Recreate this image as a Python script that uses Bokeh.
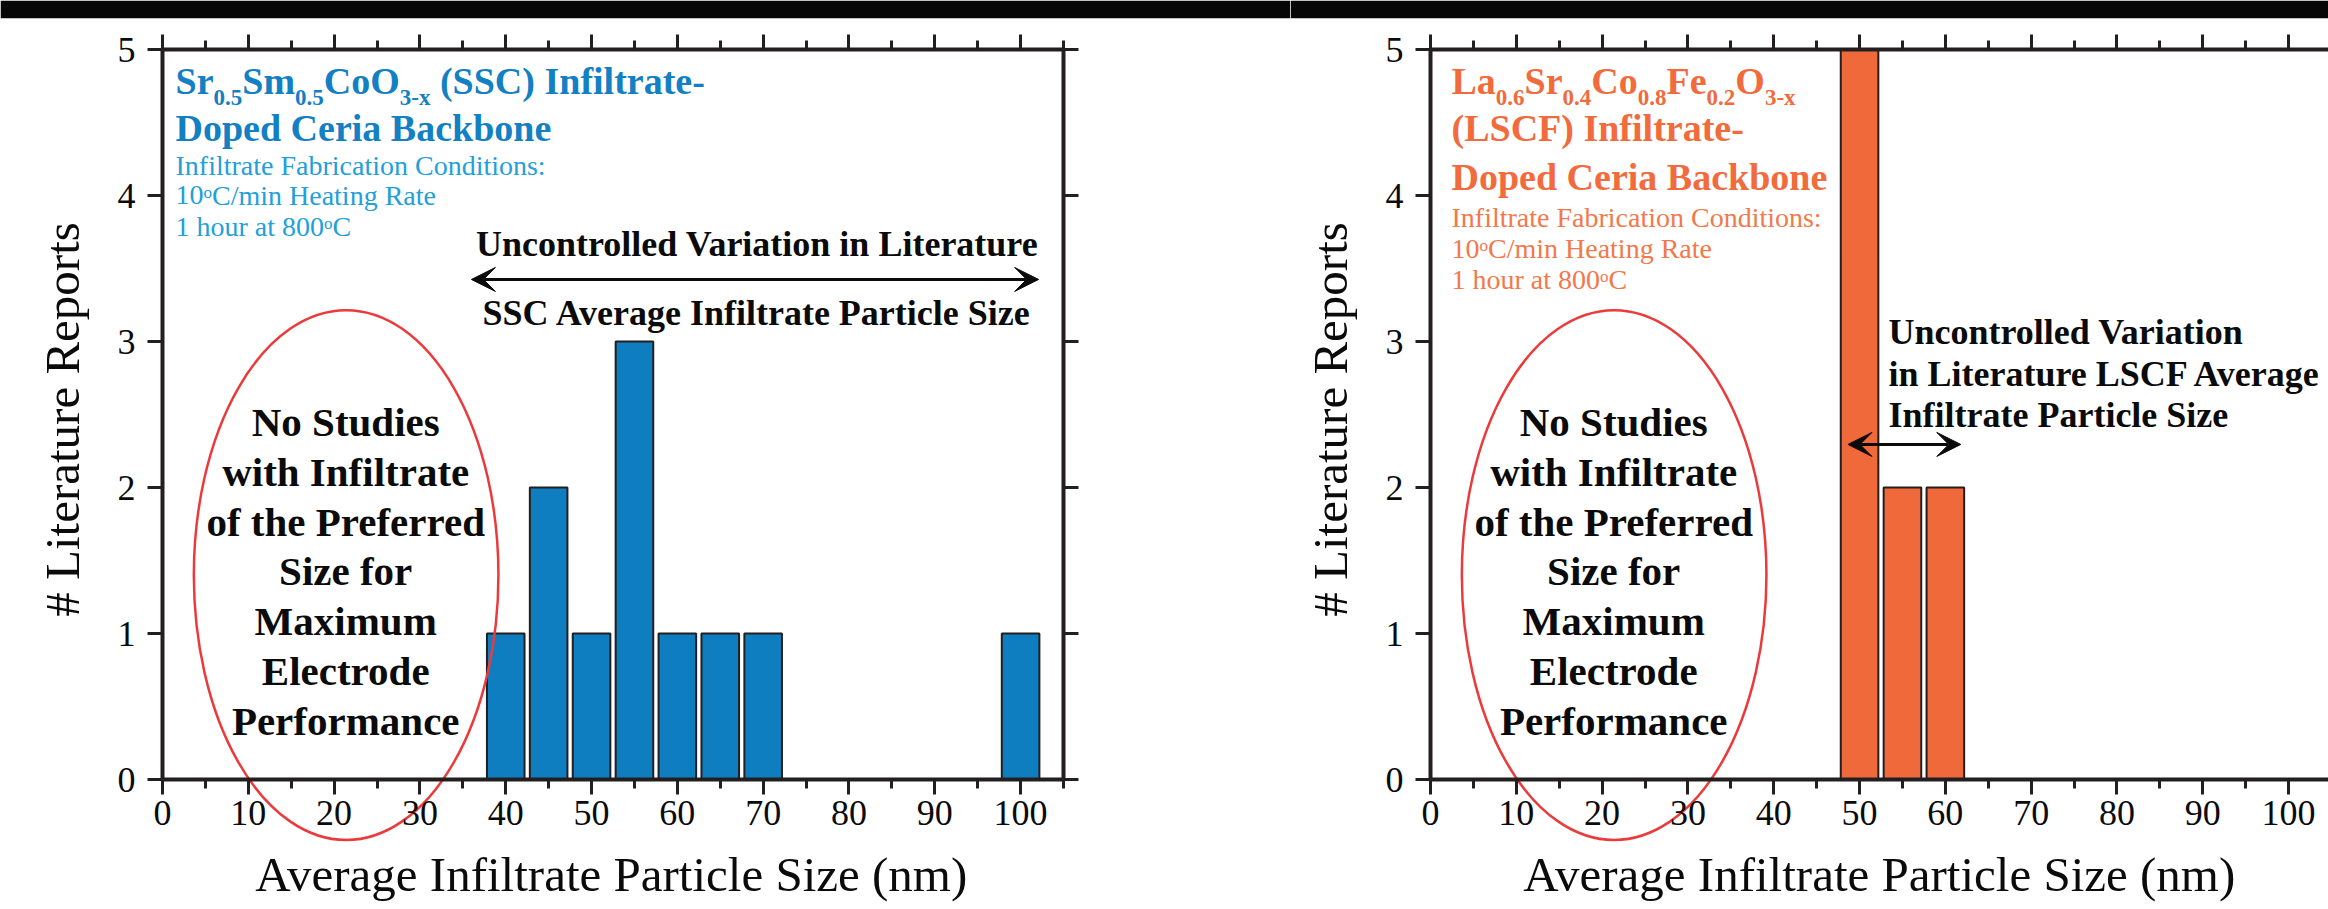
import math
from bokeh.plotting import figure
from bokeh.models import (Range1d, LinearAxis, FixedTicker, Label, Arrow, VeeHead,
                          CustomJSTickFormatter)
from bokeh.layouts import row
from bokeh.embed import file_html
from bokeh.resources import INLINE

# ---------------- data ----------------
ssc_sizes = [40, 45, 50, 55, 60, 65, 70, 100]
ssc_counts = [1, 2, 1, 3, 1, 1, 1, 1]
lscf_sizes = [50, 55, 60]
lscf_counts = [5, 2, 2]
x_major_ticks = [0, 10, 20, 30, 40, 50, 60, 70, 80, 90, 100]
x_minor_ticks = [5, 15, 25, 35, 45, 55, 65, 75, 85, 95, 105]
y_ticks = [0, 1, 2, 3, 4, 5]
x_label = "Average Infiltrate Particle Size (nm)"
y_label = "# Literature Reports"
ellipse_lines = ["No Studies", "with Infiltrate", "of the Preferred", "Size for",
                 "Maximum", "Electrode", "Performance"]

# ---------------- geometry / style ----------------
FONT = "Liberation Serif"
X_PX = 901 / 105.0        # px per x unit
Y_PX = 146.0              # px per y unit
FIG_H = 909
BAND = 18                 # black band height (figure top border)
Y0_PIX = 779              # page y of value 0
Y_END = 5 + (49 - BAND) / Y_PX
Y_START = -(FIG_H - Y0_PIX) / Y_PX
BASE_SHIFT = 0.37         # em correction for label baseline placement
AX = "#231f20"
TXT = "#0b0b0b"

W_R = {' ': 250, '(': 333, ')': 333, '-': 333, '.': 250, '/': 278, ':': 278, '#': 500}
W_B = {' ': 250, '(': 333, ')': 333, '-': 333, '.': 250, '/': 278, ':': 333, '#': 500}
for d in "0123456789":
    W_R[d] = 500
    W_B[d] = 500
W_R.update(dict(zip("abcdefghijklmnopqrstuvwxyz",
                    [444, 500, 444, 500, 444, 333, 500, 500, 278, 278, 500, 278, 778, 500, 500, 500, 500,
                     333, 389, 278, 500, 500, 722, 500, 500, 444])))
W_R.update(dict(zip("ABCDEFGHIJKLMNOPQRSTUVWXYZ",
                    [722, 667, 667, 722, 611, 556, 722, 722, 333, 389, 722, 611, 889, 722, 722, 556, 722,
                     667, 556, 611, 722, 722, 944, 722, 722, 611])))
W_B.update(dict(zip("abcdefghijklmnopqrstuvwxyz",
                    [500, 556, 444, 556, 444, 333, 500, 556, 278, 333, 556, 278, 833, 556, 500, 556, 556,
                     444, 389, 333, 556, 500, 722, 500, 500, 444])))
W_B.update(dict(zip("ABCDEFGHIJKLMNOPQRSTUVWXYZ",
                    [722, 667, 722, 722, 667, 611, 778, 778, 389, 500, 778, 667, 944, 722, 778, 611, 778,
                     722, 556, 667, 722, 722, 1000, 722, 722, 667])))


def tw(s, size, bold):
    t = W_B if bold else W_R
    return sum(t.get(c, 500) for c in s) * size / 1000.0


def lab(p, x, y, text, size, bold=False, color=TXT, align="left", angle=0.0):
    if angle == 0.0:
        y = y + BASE_SHIFT * size / Y_PX
    else:
        x = x - BASE_SHIFT * size / X_PX
    p.add_layout(Label(x=x, y=y, text=text, text_font=FONT, text_font_size=f"{size}px",
                       text_font_style="bold" if bold else "normal", text_color=color,
                       text_align=align, text_baseline="alphabetic", angle=angle))


def rich(p, pieces, x0, y0, size, bold, color, small):
    x = x0
    for text, kind in pieces:
        if kind == "sub":
            fs, dy = small, -11 / Y_PX
        elif kind == "sup":
            fs, dy = small, 7 / Y_PX
        else:
            fs, dy = size, 0.0
        lead = len(text) - len(text.lstrip(" "))
        x += tw(" " * lead, fs, bold) / X_PX
        body = text.lstrip(" ")
        lab(p, x, y0 + dy, body, fs, bold, color)
        x += tw(body, fs, bold) / X_PX


def style_axis(ax, show_labels=True):
    ax.axis_line_color = AX
    ax.axis_line_width = 4
    ax.major_tick_line_color = AX
    ax.major_tick_line_width = 3
    ax.minor_tick_line_color = AX
    ax.minor_tick_line_width = 3
    ax.major_tick_in = 0
    ax.minor_tick_in = 0
    ax.major_tick_out = 15
    ax.minor_tick_out = 9
    ax.major_label_text_font = FONT
    ax.major_label_text_font_size = "36px"
    ax.major_label_text_color = TXT
    if not show_labels:
        ax.formatter = CustomJSTickFormatter(code="return ''")
        ax.major_label_standoff = 0


def make_fig(fig_w, frame_left_px, x_axis_end, right_axis):
    x_start = -frame_left_px / X_PX
    x_end = (fig_w - frame_left_px) / X_PX
    p = figure(width=fig_w, height=FIG_H, output_backend="svg", toolbar_location=None,
               x_range=Range1d(x_start, x_end), y_range=Range1d(Y_START, Y_END),
               x_axis_location=None, y_axis_location=None,
               min_border=0, min_border_left=0, min_border_right=0,
               min_border_top=BAND, min_border_bottom=0)
    p.xgrid.visible = False
    p.ygrid.visible = False
    p.outline_line_color = None
    p.background_fill_color = "white"
    p.border_fill_color = "#060606"   # the black band along the top of the page

    bottom = LinearAxis(fixed_location=0, bounds=(0, x_axis_end),
                        ticker=FixedTicker(ticks=x_major_ticks, minor_ticks=x_minor_ticks))
    style_axis(bottom)
    bottom.major_label_standoff = 6
    p.add_layout(bottom, "below")

    top = LinearAxis(fixed_location=5, bounds=(0, x_axis_end),
                     ticker=FixedTicker(ticks=x_major_ticks, minor_ticks=x_minor_ticks))
    style_axis(top, show_labels=False)
    p.add_layout(top, "above")

    left = LinearAxis(fixed_location=0, bounds=(0, 5), ticker=FixedTicker(ticks=y_ticks, minor_ticks=[]))
    style_axis(left)
    left.major_label_standoff = 12
    p.add_layout(left, "left")

    if right_axis:
        right = LinearAxis(fixed_location=105, bounds=(0, 5),
                           ticker=FixedTicker(ticks=y_ticks, minor_ticks=[]))
        style_axis(right, show_labels=False)
        p.add_layout(right, "right")

    # axis titles
    lab(p, -82 / X_PX, 2.466, y_label, 49, False, TXT, align="center", angle=math.pi / 2)
    lab(p, 52.3, (Y0_PIX - 892) / Y_PX, x_label, 49, False, TXT, align="center")
    return p


def add_ellipse(p):
    p.ellipse(x=[21.4], y=[1.40], width=35.5, height=3.63, fill_color=None,
              line_color="#ec3a3b", line_width=2.5)
    for i, t in enumerate(ellipse_lines):
        lab(p, 21.35, 2.342 - i * 0.3404, t, 41, True, TXT, align="center")


# ---------------- left chart (SSC) ----------------
BLUE_BAR = "#0f7ec1"
BLUE_T = "#1480c4"
BLUE_S = "#22a0da"

p1 = make_fig(1290, 162, 105, True)
p1.vbar(x=ssc_sizes, top=ssc_counts, bottom=0, width=4.38, fill_color=BLUE_BAR,
        line_color=AX, line_width=2)
add_ellipse(p1)

tx = 13 / X_PX
rich(p1, [("Sr", "n"), ("0.5", "sub"), ("Sm", "n"), ("0.5", "sub"), ("CoO", "n"), ("3-x", "sub"),
          (" (SSC) Infiltrate-", "n")], tx, 4.685, 38, True, BLUE_T, 23)
lab(p1, tx, 4.365, "Doped Ceria Backbone", 38, True, BLUE_T)
lab(p1, tx, 4.137, "Infiltrate Fabrication Conditions:", 28, False, BLUE_S)
rich(p1, [("10", "n"), ("o", "sup"), ("C/min Heating Rate", "n")], tx, 3.932, 28, False, BLUE_S, 17)
rich(p1, [("1 hour at 800", "n"), ("o", "sup"), ("C", "n")], tx, 3.719, 28, False, BLUE_S, 17)

lab(p1, 69.3, 3.577, "Uncontrolled Variation in Literature", 36, True, TXT, align="center")
lab(p1, 69.3, 3.103, "SSC Average Infiltrate Particle Size", 36, True, TXT, align="center")
p1.add_layout(Arrow(start=VeeHead(size=24, fill_color=TXT, line_color=TXT, line_width=1),
                    end=VeeHead(size=24, fill_color=TXT, line_color=TXT, line_width=1),
                    x_start=36.0, y_start=3.425, x_end=102.1, y_end=3.425,
                    line_color=TXT, line_width=3))

# ---------------- right chart (LSCF) ----------------
OR_BAR = "#f0693a"
OR_T = "#f26b3c"
OR_S = "#f3784a"

W2 = 1038
p2 = make_fig(W2, 140, (W2 - 140) / X_PX, False)
p2.vbar(x=lscf_sizes, top=lscf_counts, bottom=0, width=4.38, fill_color=OR_BAR,
        line_color=AX, line_width=2)
add_ellipse(p2)

tx2 = 21 / X_PX
rich(p2, [("La", "n"), ("0.6", "sub"), ("Sr", "n"), ("0.4", "sub"), ("Co", "n"), ("0.8", "sub"),
          ("Fe", "n"), ("0.2", "sub"), ("O", "n"), ("3-x", "sub")], tx2, 4.685, 38, True, OR_T, 23)
lab(p2, tx2, 4.365, "(LSCF) Infiltrate-", 38, True, OR_T)
lab(p2, tx2, 4.029, "Doped Ceria Backbone", 38, True, OR_T)
lab(p2, tx2, 3.776, "Infiltrate Fabrication Conditions:", 28, False, OR_S)
rich(p2, [("10", "n"), ("o", "sup"), ("C/min Heating Rate", "n")], tx2, 3.566, 28, False, OR_S, 17)
rich(p2, [("1 hour at 800", "n"), ("o", "sup"), ("C", "n")], tx2, 3.354, 28, False, OR_S, 17)

for i, t in enumerate(["Uncontrolled Variation", "in Literature LSCF Average", "Infiltrate Particle Size"]):
    lab(p2, 53.37, 2.973 - i * 0.2845, t, 36, True, TXT)
p2.add_layout(Arrow(start=VeeHead(size=24, fill_color=TXT, line_color=TXT, line_width=1),
                    end=VeeHead(size=24, fill_color=TXT, line_color=TXT, line_width=1),
                    x_start=48.65, y_start=2.295, x_end=61.8, y_end=2.295,
                    line_color=TXT, line_width=3))

layout = row(p1, p2)

open("out.html", "w").write(file_html(layout, INLINE))
